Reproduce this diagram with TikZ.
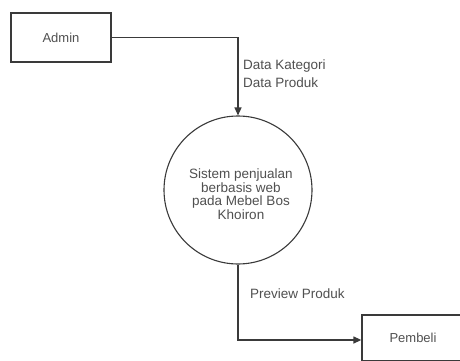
\documentclass[tikz,border=0pt]{standalone}
\usepackage{fontspec}
\setmainfont{Liberation Sans}
\usetikzlibrary{arrows.meta}
\definecolor{edgegray}{HTML}{3A3A3A}
\definecolor{textgray}{HTML}{505050}
\begin{document}
\begin{tikzpicture}[x=1pt,y=-1pt,
  entity/.style={draw=edgegray,line width=1.3pt,minimum width=100pt,minimum height=49pt,
    inner sep=0pt,font=\fontsize{13}{15}\selectfont,text=textgray},
  process/.style={draw=edgegray,line width=1.1pt,circle,minimum size=148pt,inner sep=0pt,
    align=center,font=\fontsize{13.5}{13.5}\selectfont,text=textgray},
  flow/.style={draw=edgegray,line width=1.3pt,-{Triangle[length=8pt,width=7pt]}},
  flowlabel/.style={anchor=west,inner sep=0pt,align=left,font=\fontsize{13.5}{18}\selectfont,text=textgray}]
  \clip (0,0) rectangle (460,361);
  \fill[white] (0,0) rectangle (460,361);

  % external entities and the central process
  \node[entity] (admin) at (61,37.5) {Admin};
  \node[process] (sys) at (238,190) {};
  \node[align=center,inner sep=0pt,font=\fontsize{13.5}{13.5}\selectfont,text=textgray]
    (systext) at (241,194) {Sistem penjualan\\berbasis web\\pada Mebel Bos\\Khoiron};
  \node[entity,minimum width=102pt,minimum height=46pt] (buyer) at (413,338) {Pembeli};

  % bends of the two flows
  \coordinate (c1) at (238,37.5);
  \coordinate (c2) at (238,340);

  \draw[flow] (admin.east) -- (c1) -- (sys.north);
  \draw[flow] (sys.south) -- (c2) -- (buyer.west |- c2);

  % flow labels
  \node[flowlabel] (lbl1) at (243,74) {Data Kategori\\Data Produk};
  \node[flowlabel] (lbl2) at (250,294) {Preview Produk};
\end{tikzpicture}
\end{document}
